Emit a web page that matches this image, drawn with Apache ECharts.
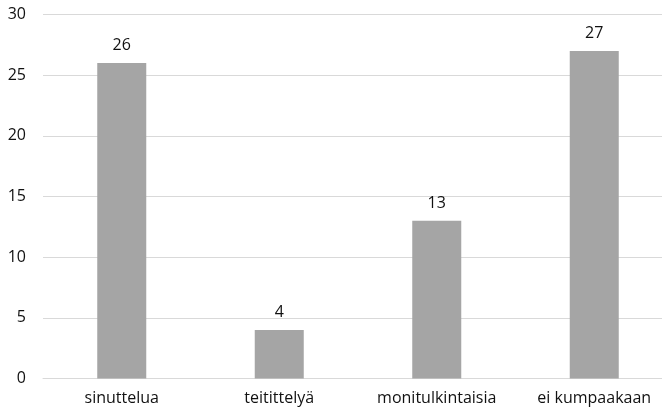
<!DOCTYPE html>
<html>
<head>
<meta charset="utf-8">
<script src="https://cdn.jsdelivr.net/npm/echarts@6/dist/echarts.min.js"></script>
<style>
  html, body { margin: 0; padding: 0; background: #fff; overflow: hidden; }
  /* plot area runs slightly past the right edge of the window */
  #chart { width: 673px; height: 413px; }
</style>
</head>
<body>
<div id="chart"></div>
<script>
const categories = ['sinuttelua', 'teitittelyä', 'monitulkintaisia', 'ei kumpaakaan'];
const values = [26, 4, 13, 27];
const yTicks = { min: 0, max: 30, interval: 5 };

const FONT = '"Open Sans", sans-serif';
const chart = echarts.init(document.getElementById('chart'));
chart.setOption({
  animation: false,
  grid: { left: 43, top: 14.5, right: 0, bottom: 34.5, containLabel: false },
  xAxis: {
    type: 'category',
    data: categories,
    axisLine: { show: true, lineStyle: { color: '#d9d9d9', width: 1 } },
    axisTick: { show: false },
    axisLabel: { color: '#111', fontFamily: FONT, fontSize: 16, margin: 12 }
  },
  yAxis: {
    type: 'value',
    min: yTicks.min, max: yTicks.max, interval: yTicks.interval,
    axisLine: { show: false },
    axisTick: { show: false },
    splitLine: { lineStyle: { color: '#d9d9d9', width: 1 } },
    axisLabel: { color: '#111', fontFamily: FONT, fontSize: 16, margin: 17 }
  },
  series: [{
    type: 'bar',
    data: values,
    barWidth: 49,
    itemStyle: { color: '#a5a5a5' },
    label: {
      show: true, position: 'top', distance: 9.5,
      color: '#111', fontFamily: FONT, fontSize: 16
    }
  }]
});
</script>
</body>
</html>
